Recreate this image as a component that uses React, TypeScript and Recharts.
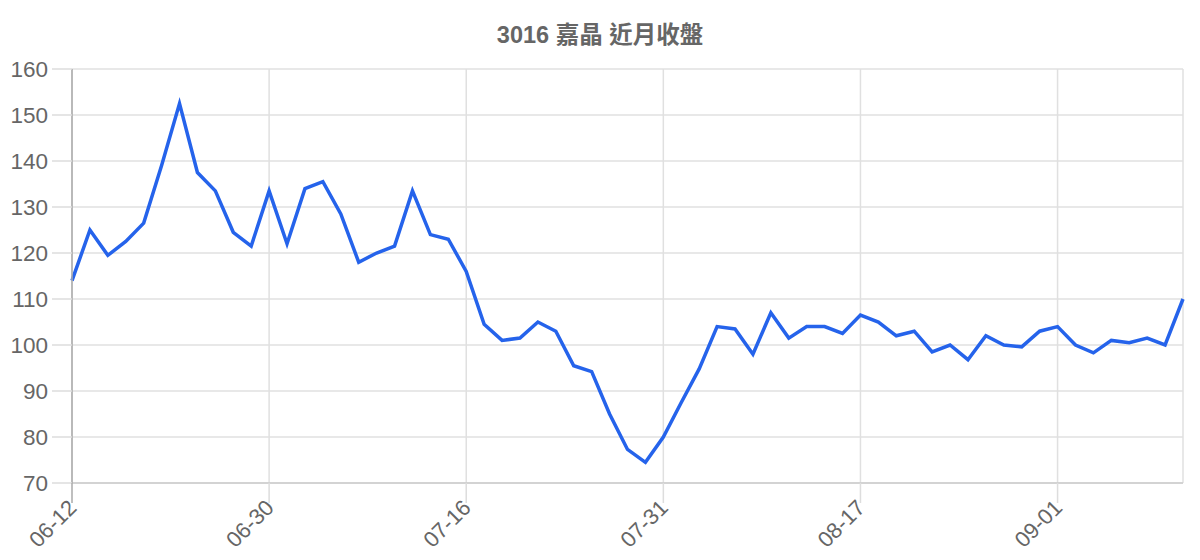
import React from "react";
import { LineChart, Line, XAxis, YAxis, CartesianGrid } from "recharts";

const TITLE = "3016 嘉晶 近月收盤";

const dates = [
  "06-12", "06-13", "06-16", "06-17", "06-18", "06-19", "06-20", "06-23", "06-24", "06-25", "06-26",
  "06-30", "07-01", "07-02", "07-03", "07-04", "07-07", "07-08", "07-09", "07-10", "07-11", "07-15",
  "07-16", "07-17", "07-18", "07-21", "07-22", "07-23", "07-24", "07-25", "07-28", "07-29", "07-30",
  "07-31", "08-01", "08-04", "08-05", "08-06", "08-07", "08-08", "08-11", "08-12", "08-13", "08-14",
  "08-17", "08-18", "08-19", "08-20", "08-21", "08-22", "08-25", "08-26", "08-27", "08-28", "08-29",
  "09-01", "09-02", "09-03", "09-04", "09-05", "09-08", "09-09", "09-10",
];

const closes = [
  114, 125, 119.5, 122.5, 126.5, 139, 152.5, 137.5, 133.5, 124.5, 121.5,
  133.5, 122, 134, 135.5, 128.5, 118, 120, 121.5, 133.5, 124, 123,
  116, 104.5, 101, 101.5, 105, 103, 95.5, 94.2, 85, 77.3, 74.5,
  80, 87.5, 94.8, 104, 103.5, 98, 107, 101.5, 104, 104, 102.5,
  106.5, 105, 102, 103, 98.5, 100, 96.8, 102, 100, 99.6, 103,
  104, 100, 98.3, 101, 100.5, 101.5, 100, 110,
];

const yTicks = [70, 80, 90, 100, 110, 120, 130, 140, 150, 160];

const data = dates.map((d, i) => ({ date: d, close: closes[i] }));

const FONT = '"Liberation Sans", Arial, "Noto Sans CJK TC", sans-serif';

const XTick = (props: any) => {
  const { x, payload, index } = props;
  const top = 483;
  return (
    <g>
      <line x1={x} y1={top} x2={x} y2={top + 20} stroke={index === 0 ? "#aaaaaa" : "#dddddd"} strokeWidth={1.5} />
      <text
        x={x + 6}
        y={top + 26}
        transform={`rotate(-45, ${x + 6}, ${top + 26})`}
        textAnchor="end"
        fontSize={22}
        fill="#666666"
        fontFamily={FONT}
      >
        {payload.value}
      </text>
    </g>
  );
};

export default function App() {
  return (
    <div style={{ position: "absolute", left: 0, top: 0, width: 1200, height: 560, background: "#fff" }}>
      <div
        style={{
          position: "absolute",
          left: 0,
          top: 20,
          width: 1200,
          textAlign: "center",
          fontFamily: FONT,
          fontWeight: "bold",
          fontSize: 23.5,
          color: "#666666",
          lineHeight: "30px",
        }}
      >
        {TITLE}
      </div>
      <LineChart width={1200} height={560} data={data} margin={{ top: 69, right: 17, bottom: 0, left: 0 }}>
        <CartesianGrid stroke="#e0e0e0" strokeWidth={1.5} />
        <XAxis
          dataKey="date"
          interval={10}
          height={77}
          tick={<XTick />}
          tickLine={false}
          axisLine={{ stroke: "#cccccc", strokeWidth: 1.5 }}
        />
        <YAxis
          domain={[70, 160]}
          ticks={yTicks}
          width={72}
          tickSize={20}
          tickMargin={4}
          tickLine={{ stroke: "#dddddd", strokeWidth: 1.5 }}
          axisLine={{ stroke: "#aaaaaa", strokeWidth: 1.5 }}
          tick={{ fontSize: 22.5, fill: "#666666", fontFamily: FONT }}
        />
        <Line
          type="linear"
          dataKey="close"
          stroke="#2563eb"
          strokeWidth={3.5}
          dot={false}
          isAnimationActive={false}
        />
      </LineChart>
    </div>
  );
}
